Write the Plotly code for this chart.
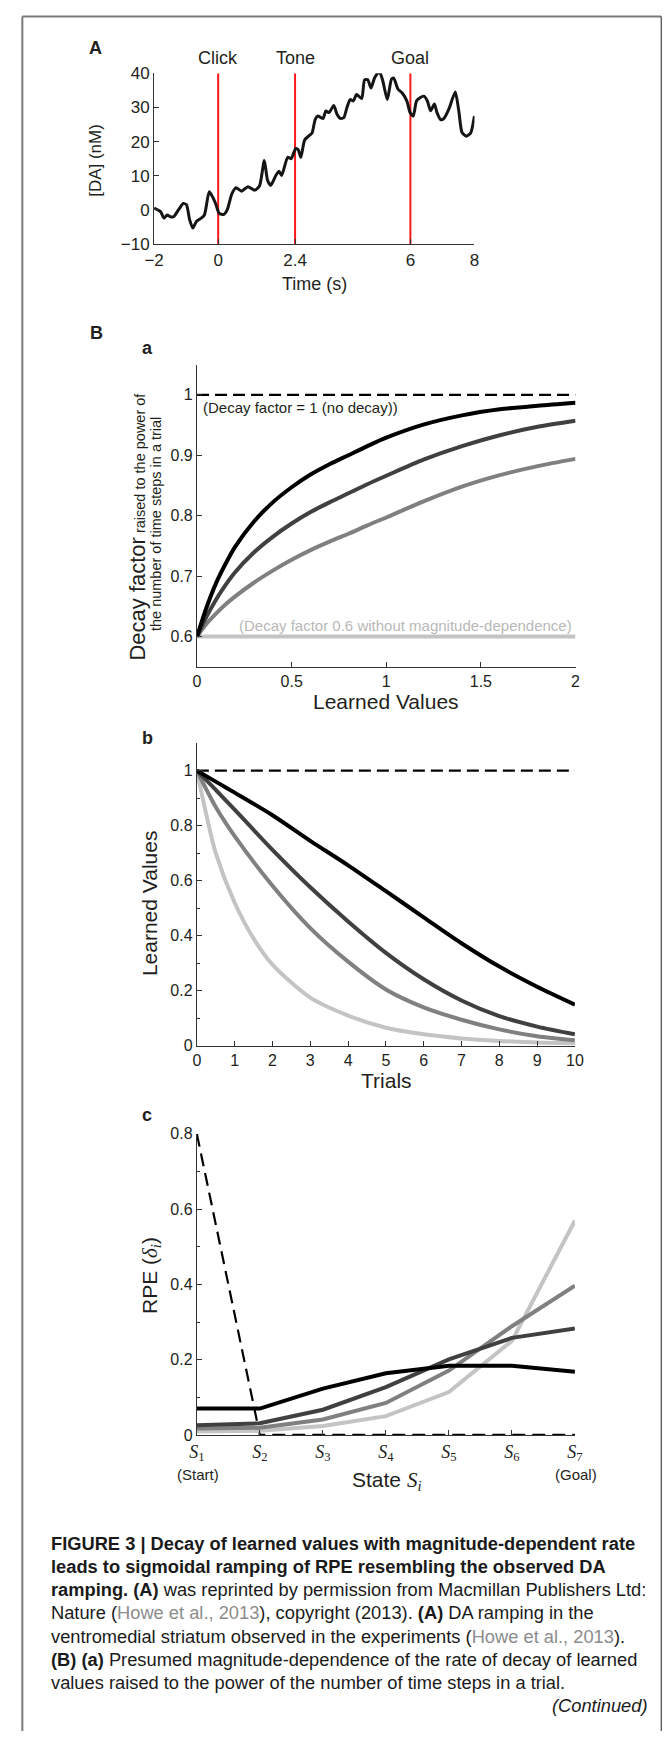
import plotly.graph_objects as go

W, H = 671, 1741
FONT = "Liberation Sans, Arial, sans-serif"
SERIF = "Liberation Serif, Times New Roman, serif"
TXT = "#231f20"


def px(x):
    return x / W


def py(y):
    return 1 - y / H


# ---------------- Panel A data ----------------
a_time = [-2.0, -1.8, -1.69, -1.59, -1.49, -1.39, -1.24, -1.09, -0.99, -0.89, -0.79, -0.68,
          -0.53, -0.43, -0.28, -0.18, -0.08, 0.03, 0.18, 0.28, 0.43, 0.56, 0.73, 0.93, 1.14,
          1.29, 1.44, 1.54, 1.64, 1.80, 1.90, 1.98, 2.17, 2.28, 2.42, 2.50, 2.58, 2.70, 2.86,
          2.93, 3.03, 3.11, 3.21, 3.28, 3.36, 3.46, 3.61, 3.71, 3.81, 3.92, 4.02, 4.12, 4.22,
          4.32, 4.48, 4.57, 4.67, 4.77, 4.88, 5.03, 5.13, 5.28, 5.41, 5.48, 5.61, 5.74, 5.89,
          5.99, 6.09, 6.19, 6.29, 6.42, 6.53, 6.63, 6.75, 6.83, 6.95, 7.05, 7.20, 7.40, 7.51,
          7.61, 7.74, 7.88, 7.94, 8.0]
a_da = [0.5, -0.5, -2.4, -1.5, -2.0, -2.0, 0.0, 1.9, 1.5, -2.9, -5.3, -3.4,
        -2.4, -1.5, 5.3, 3.9, 1.9, -1.0, -1.3, 0.0, 4.8, 6.5, 5.5, 6.8, 5.8,
        7.0, 14.5, 8.7, 7.2, 10.1, 11.3, 10.1, 15.4, 15.0, 18.0, 17.6, 15.4, 20.5, 21.9,
        22.5, 26.5, 27.5, 27.0, 26.8, 29.0, 28.5, 30.6, 28.0, 26.8, 27.0, 30.0, 32.3, 31.9,
        33.8, 32.6, 38.1, 38.1, 35.7, 38.6, 40.5, 38.1, 32.3, 38.3, 38.6, 35.4, 34.3, 31.9,
        28.5, 27.5, 31.9, 32.8, 33.3, 31.9, 29.0, 31.0, 28.5, 26.4, 26.8, 29.5, 34.5, 29.0,
        22.7, 21.6, 22.5, 24.5, 27.5]
a_event_times = [0, 2.4, 6]
a_event_labels = ["Click", "Tone", "Goal"]
a_xticks = [-2, 0, 2.4, 6, 8]
a_xticklabels = ["−2", "0", "2.4", "6", "8"]
a_yticks = [-10, 0, 10, 20, 30, 40]

# ---------------- Panel B(a) data ----------------
ba_x = [0, 0.05, 0.1, 0.15, 0.2, 0.3, 0.4, 0.5, 0.6, 0.7, 0.8, 0.9, 1.0, 1.2, 1.4, 1.6, 1.8, 2.0]
ba_black = [0.6, 0.648, 0.688, 0.720, 0.748, 0.790, 0.822, 0.847, 0.868, 0.885, 0.900, 0.915,
            0.929, 0.951, 0.966, 0.976, 0.982, 0.987]
ba_dark = [0.6, 0.633, 0.661, 0.685, 0.706, 0.739, 0.765, 0.787, 0.806, 0.822, 0.837, 0.852,
           0.866, 0.893, 0.915, 0.933, 0.947, 0.957]
ba_mid = [0.6, 0.621, 0.638, 0.653, 0.666, 0.689, 0.709, 0.727, 0.743, 0.757, 0.770, 0.784,
          0.797, 0.824, 0.848, 0.867, 0.882, 0.894]
ba_flat_x = [0, 2]
ba_flat_y = [0.6, 0.6]
ba_nodecay_y = [1, 1]
ba_xticks = [0, 0.5, 1, 1.5, 2]
ba_yticks = [0.6, 0.7, 0.8, 0.9, 1]

# ---------------- Panel B(b) data ----------------
bb_x = [0, 0.5, 1, 2, 3, 4, 5, 6, 7, 8, 9, 10]
bb_black = [1, 0.960, 0.920, 0.838, 0.745, 0.656, 0.562, 0.467, 0.373, 0.288, 0.215, 0.150]
bb_dark = [1, 0.930, 0.858, 0.712, 0.576, 0.452, 0.338, 0.242, 0.165, 0.108, 0.070, 0.042]
bb_mid = [1, 0.868, 0.762, 0.582, 0.428, 0.306, 0.205, 0.140, 0.095, 0.060, 0.035, 0.020]
bb_light_x = [0, 0.25, 0.5, 1, 1.5, 2, 3, 4, 5, 6, 7, 8, 9, 10]
bb_light = [1, 0.84, 0.70, 0.52, 0.39, 0.295, 0.175, 0.110, 0.066, 0.042, 0.027, 0.018, 0.012, 0.009]
bb_dash_x = [0, 10]
bb_dash_y = [1, 1]
bb_xticks = list(range(0, 11))

# ---------------- Panel B(c) data ----------------
bc_states = [1, 2, 3, 4, 5, 6, 7]
bc_ticklabels = ["<i>S</i><sub>%d</sub>" % i for i in bc_states]
bc_black = [0.070, 0.070, 0.123, 0.164, 0.184, 0.184, 0.168]
bc_dark = [0.026, 0.031, 0.067, 0.127, 0.201, 0.258, 0.283]
bc_mid = [0.017, 0.019, 0.041, 0.085, 0.171, 0.289, 0.397]
bc_light = [0.009, 0.011, 0.024, 0.050, 0.114, 0.250, 0.570]
bc_dash = [0.8, 0, 0, 0, 0, 0, 0]

caption_lines = [
    "<b>FIGURE 3 | Decay of learned values with magnitude-dependent rate</b>",
    "<b>leads to sigmoidal ramping of RPE resembling the observed DA</b>",
    "<b>ramping. (A)</b> was reprinted by permission from Macmillan Publishers Ltd:",
    "Nature (<span style='color:#8c8c8c'>Howe et al., 2013</span>), copyright (2013). <b>(A)</b> DA ramping in the",
    "ventromedial striatum observed in the experiments (<span style='color:#8c8c8c'>Howe et al., 2013</span>).",
    "<b>(B) (a)</b> Presumed magnitude-dependence of the rate of decay of learned",
    "values raised to the power of the number of time steps in a trial.",
]

BLACK, DARK, MID, LIGHT = "#000000", "#404040", "#808080", "#c4c4c4"

fig = go.Figure()

# Panel A
ev_x, ev_y = [], []
for t in a_event_times:
    ev_x += [t, t, None]
    ev_y += [a_yticks[0], a_yticks[-1], None]
fig.add_trace(go.Scatter(x=ev_x, y=ev_y, mode="lines", line=dict(color="#ff1a1a", width=2),
                         xaxis="x", yaxis="y"))
fig.add_trace(go.Scatter(x=a_time, y=a_da, mode="lines",
                         line=dict(color="#151515", width=3, shape="spline", smoothing=0.6),
                         xaxis="x", yaxis="y"))

# Panel Ba
fig.add_trace(go.Scatter(x=ba_flat_x, y=ba_nodecay_y, mode="lines",
                         line=dict(color=BLACK, width=2.2, dash="12px,6px"), xaxis="x2", yaxis="y2"))
fig.add_trace(go.Scatter(x=ba_flat_x, y=ba_flat_y, mode="lines",
                         line=dict(color=LIGHT, width=4), xaxis="x2", yaxis="y2"))
for ys, c in [(ba_mid, MID), (ba_dark, DARK), (ba_black, BLACK)]:
    fig.add_trace(go.Scatter(x=ba_x, y=ys, mode="lines",
                             line=dict(color=c, width=4, shape="spline", smoothing=0.8),
                             xaxis="x2", yaxis="y2"))

# Panel Bb
fig.add_trace(go.Scatter(x=bb_dash_x, y=bb_dash_y, mode="lines",
                         line=dict(color=BLACK, width=2.2, dash="12px,6px"), xaxis="x3", yaxis="y3"))
fig.add_trace(go.Scatter(x=bb_light_x, y=bb_light, mode="lines",
                         line=dict(color=LIGHT, width=4, shape="spline", smoothing=0.8),
                         xaxis="x3", yaxis="y3"))
for ys, c in [(bb_mid, MID), (bb_dark, DARK), (bb_black, BLACK)]:
    fig.add_trace(go.Scatter(x=bb_x, y=ys, mode="lines",
                             line=dict(color=c, width=4, shape="spline", smoothing=0.8),
                             xaxis="x3", yaxis="y3"))

# Panel Bc
fig.add_trace(go.Scatter(x=bc_states, y=bc_dash, mode="lines",
                         line=dict(color=BLACK, width=2.2, dash="13px,7px"), xaxis="x4", yaxis="y4"))
for ys, c in [(bc_light, LIGHT), (bc_mid, MID), (bc_dark, DARK), (bc_black, BLACK)]:
    fig.add_trace(go.Scatter(x=bc_states, y=ys, mode="lines",
                             line=dict(color=c, width=4), xaxis="x4", yaxis="y4"))


def axis(domain, rng, anchor, size=16, **kw):
    d = dict(domain=domain, range=rng, anchor=anchor, showline=True, linecolor="#333333",
             linewidth=1.2, ticks="inside", ticklen=5, tickcolor="#333333", tickwidth=1,
             showgrid=False, zeroline=False, fixedrange=True,
             tickfont=dict(size=size, color=TXT, family=FONT))
    d.update(kw)
    return d


layout = dict(
    width=W, height=H, margin=dict(l=0, r=0, t=0, b=0),
    paper_bgcolor="white", plot_bgcolor="white", showlegend=False,
    font=dict(family=FONT, color=TXT),
    xaxis=axis([px(148.3), px(478)], [-2, 8], "y", size=17, tickvals=a_xticks,
               ticktext=a_xticklabels),
    yaxis=axis([py(237.7), py(65)], [-10, 40], "x", size=17, tickvals=a_yticks),
    xaxis2=axis([px(192.5), px(582)], [0, 2], "y2", tickvals=ba_xticks),
    yaxis2=axis([py(665), py(359.5)], [0.55, 1.05], "x2", tickvals=ba_yticks),
    xaxis3=axis([px(192.3), px(581.4)], [0, 10], "y3", tickvals=bb_xticks),
    yaxis3=axis([py(1048.3), py(742.2)], [0, 1.1], "x3", tickvals=[0, 0.2, 0.4, 0.6, 0.8, 1],
                minor=dict(ticks="inside", ticklen=3, tickcolor="#333333", dtick=0.1, showgrid=False)),
    xaxis4=axis([px(192.3), px(581.4)], [1, 7], "y4", tickvals=bc_states, ticktext=bc_ticklabels,
                tickfont=dict(size=18, color=TXT, family=SERIF)),
    yaxis4=axis([py(1441.7), py(1137.3)], [0, 0.8], "x4", tickvals=[0, 0.2, 0.4, 0.6, 0.8],
                minor=dict(ticks="inside", ticklen=3, tickcolor="#333333", dtick=0.1, showgrid=False)),
)
fig.update_layout(**layout)

ann = []


def text(x, y, s, size, bold=False, angle=0, xanchor="center", color=TXT, family=FONT):
    ann.append(dict(x=px(x), y=py(y), xref="paper", yref="paper", text=("<b>%s</b>" % s) if bold else s,
                    showarrow=False, textangle=angle, xanchor=xanchor, yanchor="middle",
                    font=dict(size=size, color=color, family=family)))


# Panel labels
text(88, 39, "A", 18, bold=True)
text(89, 328, "B", 18, bold=True)
text(141.5, 343, "a", 18, bold=True)
text(141, 737, "b", 18, bold=True)
text(141, 1118, "c", 18, bold=True)

# Panel A labels
for t, lab in zip(a_event_times, a_event_labels):
    ann.append(dict(x=t, y=py(50), xref="x", yref="paper", text=lab, showarrow=False,
                    xanchor="center", yanchor="middle", font=dict(size=18, color=TXT, family=FONT)))
text(88, 153, "[DA] (nM)", 17, angle=-90)
text(313, 278, "Time (s)", 18)

# Panel Ba labels
text(131, 523, "<span style='font-size:22px'>Decay factor</span> raised to the power of", 14.5, angle=-90)
text(151, 521, "the number of time steps in a trial", 14.5, angle=-90)
text(197, 403, "(Decay factor = 1 (no decay))", 15, xanchor="left")
text(580, 623, "(Decay factor 0.6 without magnitude-dependence)", 15, xanchor="right", color="#b8b8b8")
text(387, 700, "Learned Values", 21)

# Panel Bb labels
text(143, 904, "Learned Values", 21, angle=-90)
text(387, 1083, "Trials", 21)

# Panel Bc labels
text(145, 1280, "RPE (<span style='font-family:Liberation Serif'><i>δ</i><sub><i>i</i></sub></span>)", 21, angle=-90)
text(193, 1482, "(Start)", 15)
text(582, 1482, "(Goal)", 15)
text(387, 1488, "State <span style='font-family:Liberation Serif'><i>S</i><sub><i>i</i></sub></span>", 21)

# Caption
for i, line in enumerate(caption_lines):
    text(40.6, 1551 + 23.5 * i, line, 18.3, xanchor="left", color="#1a1a1a")
text(659, 1551 + 23.5 * 7, "<i>(Continued)</i>", 18.3, xanchor="right", color="#1a1a1a")

fig.update_layout(annotations=ann)

# Page frame
fig.update_layout(shapes=[
    dict(type="line", xref="paper", yref="paper", x0=px(12.7), x1=px(670), y0=py(7.5), y1=py(7.5),
         line=dict(color="#7a7a7a", width=2)),
    dict(type="line", xref="paper", yref="paper", x0=px(12.7), x1=px(12.7), y0=py(7.5), y1=0,
         line=dict(color="#7a7a7a", width=2)),
    dict(type="line", xref="paper", yref="paper", x0=px(670.2), x1=px(670.2), y0=py(7.5), y1=0,
         line=dict(color="#222222", width=1)),
])

fig.write_html("out.html", config={"displayModeBar": False},
               post_script="document.body.style.margin='0';document.body.style.overflow='hidden';")
